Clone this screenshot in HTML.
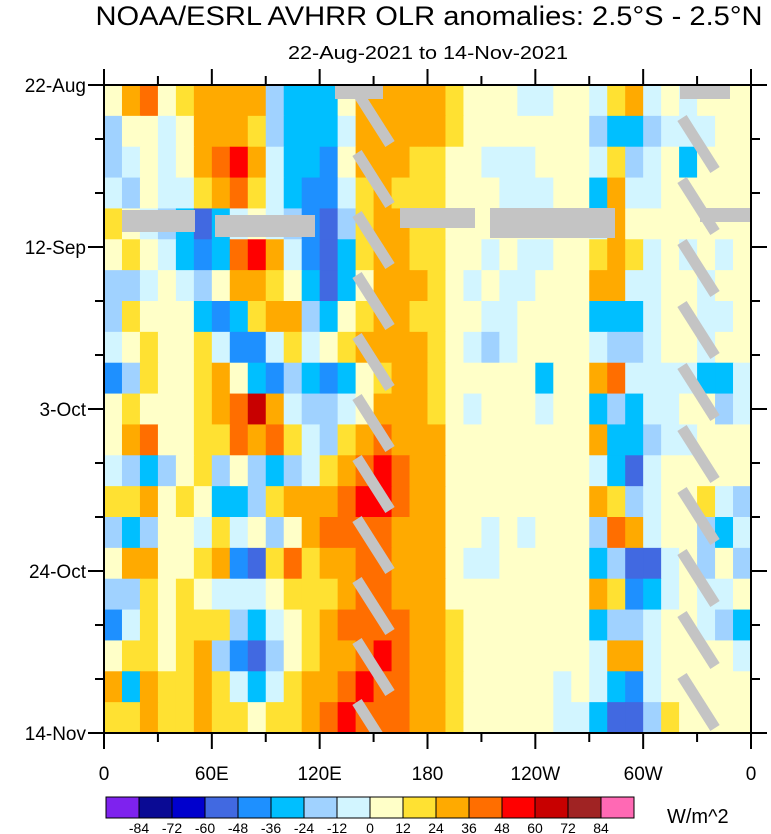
<!DOCTYPE html>
<html><head><meta charset="utf-8"><style>
body{margin:0;background:#fff;}
svg{display:block;font-family:"Liberation Sans",sans-serif;}
</style></head><body>
<svg id="chart" width="771" height="834" viewBox="0 0 771 834">
<text x="429" y="25" font-size="27" text-anchor="middle" textLength="667" lengthAdjust="spacingAndGlyphs">NOAA/ESRL AVHRR OLR anomalies: 2.5°S - 2.5°N</text>
<text x="428" y="59" font-size="18" text-anchor="middle" textLength="280" lengthAdjust="spacingAndGlyphs">22-Aug-2021 to 14-Nov-2021</text>
<defs><clipPath id="pc"><rect x="104" y="85" width="647" height="648"/></clipPath></defs>
<g id="cells" clip-path="url(#pc)"></g>
<g id="mask" clip-path="url(#pc)"></g>
<rect x="104" y="85" width="647" height="648" fill="none" stroke="#000" stroke-width="2"/>
<g id="axes"></g>
<g id="cbar"></g>
<text x="667" y="823" font-size="20">W/m^2</text>
</svg>
<script>
const lonBins=[0,10,20,30,40,50,60,70,80,90,100,110,120,130,140,150,160,170,180,190,200,210,220,230,240,250,260,270,280,290,300,310,320,330,340,350];
const dayBins=[0,4,8,12,16,20,24,28,32,36,40,44,48,52,56,60,64,68,72,76,80];
const westVals=[
[5,30,40,5,15,25,35,30,35,-15,-25,-30,-25,10,25,30,30,25],
[-15,5,0,-5,10,30,35,30,20,-15,-30,-30,-35,-10,25,30,35,30],
[-20,-10,5,-10,5,35,45,50,35,-10,-30,-35,-40,10,25,30,25,20],
[-10,-15,10,-5,-10,15,35,40,20,-5,-25,-40,-45,-10,20,25,20,15],
[15,10,-10,-15,-35,-60,-30,-10,5,-5,-20,-40,-50,-20,20,30,25,20],
[5,20,10,-10,-25,-45,-30,40,55,30,-10,-45,-55,-30,15,30,35,20],
[-20,-15,-10,5,-5,-15,5,25,30,20,5,-30,-50,-35,10,30,30,25],
[-15,15,10,0,5,-30,-40,-30,15,30,35,-20,-30,0,20,30,30,20],
[-5,10,20,5,10,20,-5,-40,-40,-10,15,-5,10,15,25,30,35,25],
[-40,-20,15,10,5,20,25,10,-30,-45,-20,-30,-40,-30,10,20,25,25],
[10,20,10,5,5,15,30,45,65,35,-10,-15,-20,-5,5,25,30,25],
[10,35,45,10,10,15,20,45,25,45,15,-10,-15,15,35,40,35,30],
[-10,-20,-25,-15,5,15,-20,10,-20,-25,-15,-10,15,35,45,55,45,30],
[15,20,25,5,15,10,-30,-25,-15,15,25,30,30,45,50,55,40,30],
[-20,-30,-15,10,10,-10,15,-5,10,-20,10,30,40,45,45,40,30,25],
[10,30,30,5,10,20,25,-40,-50,20,45,20,25,30,40,45,35,30],
[-20,-15,15,0,15,10,-10,-10,-5,5,15,15,20,30,40,40,30,25],
[-40,-10,20,5,20,20,15,-20,-25,-10,10,20,30,40,45,45,40,30],
[10,15,20,10,20,25,-20,-40,-60,-20,10,20,30,35,40,50,40,35],
[25,-30,30,15,20,25,15,-10,-25,-10,15,25,35,45,50,45,40,35],
[20,15,25,20,20,25,20,15,10,15,20,30,40,50,45,45,40,35]];
const eastVals=[
[25,15,5,5,0,-5,-5,5,5,-10,20,30,-5,0,-10,5,5,5],
[25,15,5,5,0,5,5,5,5,-20,-35,-30,-15,-5,-5,-10,5,5],
[20,10,5,-5,-5,-5,5,5,5,-10,20,-20,-10,5,-25,5,5,5],
[20,10,5,5,-5,-5,-5,5,5,-25,30,-10,-5,5,5,5,5,5],
[20,10,5,5,5,5,5,5,5,-10,25,5,5,5,5,5,5,5],
[20,10,5,-5,5,-10,-5,5,5,15,35,20,-5,5,-5,5,-5,5],
[15,5,-10,5,-10,-10,5,5,5,35,25,-5,-5,5,5,-5,5,5],
[20,10,5,-10,-10,5,5,5,5,-35,-30,-25,-5,5,5,-5,-5,5],
[20,10,-10,-20,-10,5,5,5,5,-10,-20,-15,-5,5,5,-5,5,5],
[20,10,5,5,5,5,-25,5,5,35,40,-10,-5,-10,-10,-30,-30,-10],
[20,5,-5,5,5,5,-5,5,5,-30,-20,-30,-5,-5,5,5,-20,-10],
[25,10,5,5,5,5,5,5,5,30,-30,-30,-15,-10,-5,5,5,5],
[25,10,5,5,5,5,5,5,5,-10,-35,-50,-10,5,5,5,5,5],
[25,10,5,5,5,5,5,5,5,30,20,-15,-5,5,5,15,-10,-15],
[25,10,5,-5,5,-5,5,5,5,-20,45,35,-10,5,5,-15,-35,-10],
[25,10,-5,-5,5,5,5,5,5,-30,-20,-60,-50,-10,5,-15,5,-15],
[25,10,5,5,5,5,5,5,5,25,15,-40,-30,-10,5,-10,-5,5],
[30,15,5,5,5,5,5,5,5,-30,-20,-20,-5,5,5,-10,-15,-30],
[30,15,5,5,5,5,5,5,5,-10,30,35,-5,5,5,5,5,-5],
[30,15,5,5,5,5,5,-5,5,-10,-30,-40,-10,5,5,5,5,5],
[30,15,5,5,5,5,5,-5,-5,-30,-50,-60,-20,15,5,5,5,5]];
const levels=[-84,-72,-60,-48,-36,-24,-12,0,12,24,36,48,60,72,84];
const colors=["#7e22ee","#0a0a94","#0000cd","#4169e1","#1e90ff","#00bfff","#a0d2ff","#d2f5ff","#ffffc8","#ffe132","#ffaa00","#ff6e00","#ff0000","#c80000","#a02323","#ff69b4"];
const yLabels=["22-Aug","12-Sep","3-Oct","24-Oct","14-Nov"];
const yLabelDays=[0,21,42,63,84];
const xLabels=["0","60E","120E","180","120W","60W","0"];
const xLabelLons=[0,60,120,180,240,300,360];

const NS="http://www.w3.org/2000/svg";
const X0=104,X1=751,Y0=85,Y1=733;
const xs=l=>X0+(X1-X0)*l/360;
const ys=d=>Y0+(Y1-Y0)*d/84;
function colorOf(v){let i=0;while(i<levels.length&&v>=levels[i])i++;return colors[i];}
function mk(tag,attrs,parent){const e=document.createElementNS(NS,tag);for(const k in attrs)e.setAttribute(k,attrs[k]);parent.appendChild(e);return e;}

const cells=document.getElementById('cells');
dayBins.forEach((d,j)=>{
  const row=westVals[j].concat(eastVals[j]);
  lonBins.forEach((l,i)=>{
    const r=mk('rect',{x:xs(l),y:ys(d),width:xs(l+10)-xs(l)+0.6,height:ys(d+4)-ys(d)+0.6,fill:colorOf(row[i])},cells);
    
    
  });
});

const mask=document.getElementById('mask');
const gray="#c4c4c4";
[[122,210,73,22],[215,215,100,22],[400,208,75,20],[490,208,125,30],[700,208,51,14],[335,85,48,14],[680,85,50,14]].forEach(b=>{
  const r=mk('rect',{x:b[0],y:b[1],width:b[2],height:b[3],fill:gray},mask);
  
  
});
for(let k=0;k<11;k++){
  const yA=92+61*k;
  const a=mk('line',{x1:357,y1:yA,x2:390,y2:yA+52,stroke:gray,'stroke-width':11},mask);
  
  
  const yB=118+62*k;
  const b=mk('line',{x1:682,y1:yB,x2:715,y2:yB+52,stroke:gray,'stroke-width':11},mask);
  
  
}

const axes=document.getElementById('axes');
for(let d=0;d<=84;d+=7){
  const major=d%21===0, len=major?16:9;
  mk('line',{x1:X0-len,y1:ys(d),x2:X0,y2:ys(d),stroke:'#000','stroke-width':2},axes);
  mk('line',{x1:X1,y1:ys(d),x2:X1+len,y2:ys(d),stroke:'#000','stroke-width':2},axes);
}
yLabels.forEach((t,i)=>{
  const e=mk('text',{x:86,y:ys(yLabelDays[i])+7,'font-size':19,'text-anchor':'end'},axes);
  e.textContent=t;
  
  
});
for(let l=0;l<=360;l+=30){
  const major=l%60===0, len=major?16:9;
  mk('line',{x1:xs(l),y1:Y1,x2:xs(l),y2:Y1+len,stroke:'#000','stroke-width':2},axes);
  mk('line',{x1:xs(l),y1:Y0-len,x2:xs(l),y2:Y0,stroke:'#000','stroke-width':2},axes);
}
xLabels.forEach((t,i)=>{
  const e=mk('text',{x:xs(xLabelLons[i]),y:780,'font-size':19,'text-anchor':'middle'},axes);
  e.textContent=t;
  
  
});

const cbar=document.getElementById('cbar');
const cbX=106,cbY=797,cbH=21;
const boxW=(634-106)/colors.length;
colors.forEach((c,i)=>{
  const r=mk('rect',{x:cbX+i*boxW,y:cbY,width:boxW,height:cbH,fill:c,stroke:'#000','stroke-width':1},cbar);
  
  
});
levels.forEach((v,i)=>{
  const e=mk('text',{x:cbX+(i+1)*boxW,y:833,'font-size':14,'text-anchor':'middle'},cbar);
  e.textContent=v;
  
  
});
</script>
</body></html>
